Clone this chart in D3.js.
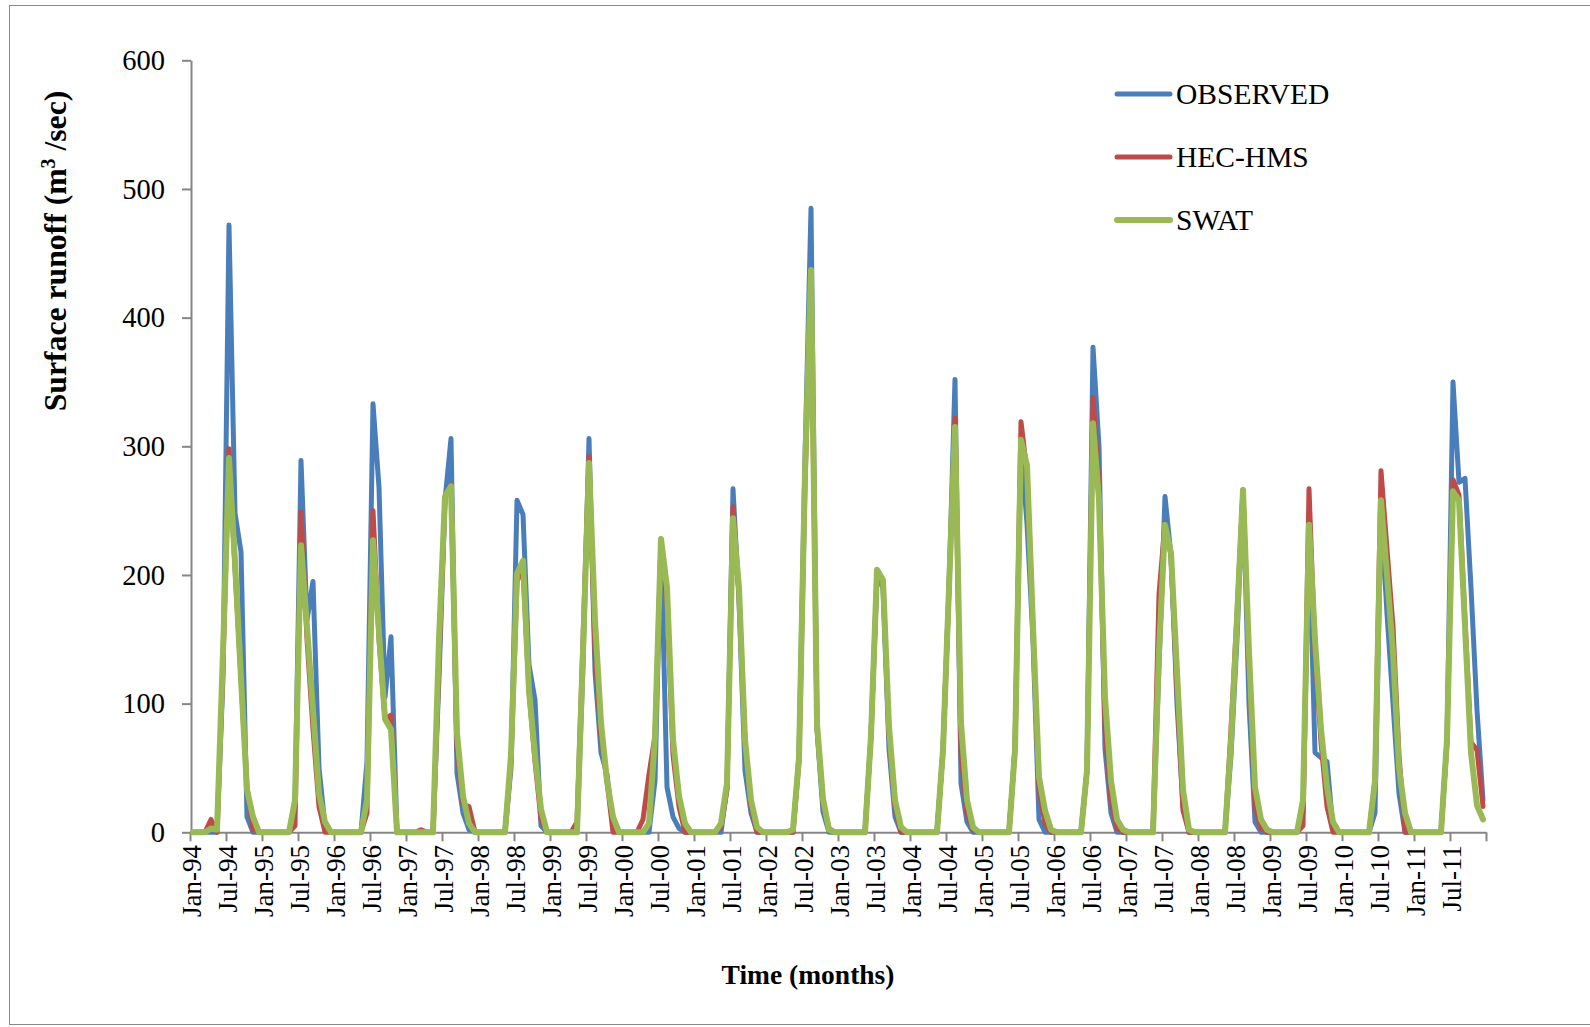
<!DOCTYPE html>
<html>
<head>
<meta charset="utf-8">
<script src="https://cdn.jsdelivr.net/npm/d3@7"></script>
<style>
  body { margin: 0; background: #fff; }
  svg { display: block; }
  text { font-family: "Liberation Serif", "Times New Roman", serif; fill: #000; }
</style>
</head>
<body>
<svg width="1590" height="1027"></svg>
<script>
// monthly surface runoff, Jan-94 .. Dec-11 (one row per year)
const observed = [
  0,0,0,0,0,120,472,248,218,12,0,0,
  0,0,0,0,0,20,289,165,195,50,5,0,
  0,0,0,0,0,55,333,268,105,152,0,0,
  0,0,0,0,0,120,258,306,46,15,2,0,
  0,0,0,0,0,50,258,247,130,103,5,0,
  0,0,0,0,0,130,306,125,62,45,5,0,
  0,0,0,0,0,40,228,35,12,3,0,0,
  0,0,0,0,0,35,267,180,48,15,0,0,
  0,0,0,0,0,60,290,485,80,16,0,0,
  0,0,0,0,0,75,200,190,65,12,0,0,
  0,0,0,0,0,64,190,352,38,8,0,0,
  0,0,0,0,0,65,300,240,150,10,0,0,
  0,0,0,0,0,48,377,300,65,15,0,0,
  0,0,0,0,0,130,261,215,100,20,0,0,
  0,0,0,0,0,60,150,266,100,8,0,0,
  0,0,0,0,0,15,235,62,58,55,3,0,
  0,0,0,0,0,15,250,170,100,30,0,0,
  0,0,0,0,0,70,350,272,275,190,95,25
]
const hecHms = [
  0,0,0,10,0,130,298,205,120,35,2,0,
  0,0,0,0,0,5,249,150,80,20,0,0,
  0,0,0,0,0,15,250,150,88,91,0,0,
  0,0,2,0,0,130,260,270,64,22,20,0,
  0,0,0,0,0,55,195,205,110,55,10,0,
  0,0,0,0,8,150,292,140,75,40,0,0,
  0,0,0,10,45,75,225,180,60,20,0,0,
  0,0,0,0,4,33,253,185,70,20,0,0,
  0,0,0,0,0,55,270,430,82,22,3,0,
  0,0,0,0,0,75,200,195,75,20,0,0,
  0,0,0,0,0,64,190,322,60,15,2,0,
  0,0,0,0,0,65,319,280,155,33,7,0,
  0,0,0,0,0,48,338,270,80,25,3,0,
  0,0,0,0,0,185,240,215,110,17,0,0,
  0,0,0,0,0,80,170,266,130,20,3,0,
  0,0,0,0,0,5,267,140,70,20,0,0,
  0,0,0,0,0,40,281,220,160,60,0,0,
  0,0,0,0,0,72,274,262,165,70,64,20
]
const swat = [
  0,0,0,3,2,140,291,210,120,33,12,0,
  0,0,0,0,0,25,223,160,95,30,8,0,
  0,0,0,0,0,25,227,155,88,80,0,0,
  0,0,0,0,0,150,261,269,77,28,7,0,
  0,0,0,0,0,60,201,211,110,60,18,0,
  0,0,0,0,0,140,287,165,85,40,12,0,
  0,0,0,0,7,74,228,190,72,28,7,0,
  0,0,0,0,7,38,244,190,72,25,4,0,
  0,0,0,0,2,58,280,437,84,26,2,0,
  0,0,0,0,0,75,204,196,82,25,4,0,
  0,0,0,0,0,64,190,315,85,25,4,0,
  0,0,0,0,0,64,305,285,160,43,17,2,
  0,0,0,0,0,48,318,258,105,40,10,2,
  0,0,0,0,0,140,239,217,125,33,2,0,
  0,0,0,0,0,70,165,266,140,35,10,2,
  0,0,0,0,0,25,239,150,80,35,8,0,
  0,0,0,0,0,40,258,200,140,50,15,0,
  0,0,0,0,0,72,265,258,160,62,21,10
]

const monthNames = ["Jan","Feb","Mar","Apr","May","Jun","Jul","Aug","Sep","Oct","Nov","Dec"]
const years = ["94","95","96","97","98","99","00","01","02","03","04","05","06","07","08","09","10","11"]
const tickLabels = ["Jan-94","Jul-94","Jan-95","Jul-95","Jan-96","Jul-96","Jan-97","Jul-97","Jan-98","Jul-98",
  "Jan-99","Jul-99","Jan-00","Jul-00","Jan-01","Jul-01","Jan-02","Jul-02","Jan-03","Jul-03","Jan-04","Jul-04",
  "Jan-05","Jul-05","Jan-06","Jul-06","Jan-07","Jul-07","Jan-08","Jul-08","Jan-09","Jul-09","Jan-10","Jul-10",
  "Jan-11","Jul-11"]
const yTicks = [0, 100, 200, 300, 400, 500, 600]

const months = []
years.forEach(y => monthNames.forEach(m => months.push(m + "-" + y)))

const series = [
  {name: "OBSERVED", values: observed, color: "#4a7ebb", width: 5},
  {name: "HEC-HMS", values: hecHms, color: "#be4b48", width: 5},
  {name: "SWAT", values: swat, color: "#98b954", width: 6}
]

const svg = d3.select("svg")
const axisColor = "#868686"

// outer frame
svg.append("rect")
    .attr("x", 9.5).attr("y", 5.5)
    .attr("width", 1600).attr("height", 1019)
    .attr("fill", "none").attr("stroke", "#8a8a8a").attr("stroke-width", 1)

const x = d3.scalePoint().domain(months).range([190, 1486]).padding(0.5)
const xEdge = d3.scaleLinear().domain([0, months.length]).range([190, 1486])
const y = d3.scaleLinear().domain([0, 600]).range([832.3, 60.3])

// y axis
const yAxis = svg.append("g")
    .attr("transform", "translate(191,0)")
    .call(d3.axisLeft(y).tickValues(yTicks).tickSize(9).tickSizeOuter(0).tickPadding(17))
yAxis.select(".domain").attr("stroke", axisColor).attr("stroke-width", 2)
yAxis.selectAll(".tick line").attr("stroke", axisColor).attr("stroke-width", 2)
yAxis.selectAll(".tick text")
    .attr("font-family", "Liberation Serif")
    .attr("font-size", 28.5)
    .attr("fill", "#000")

// x axis (tick marks on category edges every 6 months)
const xAxis = svg.append("g")
    .attr("transform", `translate(0,${y(0)})`)
    .call(d3.axisBottom(xEdge).tickValues(d3.range(0, months.length + 1, 6)).tickSize(9).tickSizeOuter(0).tickFormat(""))
xAxis.select(".domain").attr("stroke", axisColor).attr("stroke-width", 2)
xAxis.selectAll(".tick line").attr("stroke", axisColor).attr("stroke-width", 2)

svg.append("g").selectAll("text")
    .data(tickLabels)
    .join("text")
    .attr("transform", d => `translate(${x(d) - 1},845) rotate(-90)`)
    .attr("text-anchor", "end")
    .attr("dy", "0.35em")
    .attr("font-size", 27)
    .text(d => d)

// lines
const line = d3.line()
    .x((d, i) => x(months[i]))
    .y(d => y(d))

svg.append("g").selectAll("path")
    .data(series)
    .join("path")
    .attr("d", d => line(d.values))
    .attr("fill", "none")
    .attr("stroke", d => d.color)
    .attr("stroke-width", d => d.width)
    .attr("stroke-linejoin", "round")
    .attr("stroke-linecap", "round")

// legend
const legend = svg.append("g").selectAll("g")
    .data(series)
    .join("g")
    .attr("transform", (d, i) => `translate(1117,${94 + i * 63})`)
legend.append("line")
    .attr("x1", 0).attr("x2", 53)
    .attr("stroke", d => d.color)
    .attr("stroke-width", d => d.width)
    .attr("stroke-linecap", "round")
legend.append("text")
    .attr("x", 59).attr("y", 10)
    .attr("font-size", 29.5)
    .text(d => d.name)

// axis titles
svg.append("text")
    .attr("x", 808).attr("y", 984)
    .attr("text-anchor", "middle")
    .attr("font-weight", "bold")
    .attr("font-size", 27.5)
    .text("Time (months)")

const yTitle = svg.append("text")
    .attr("transform", "translate(66,251) rotate(-90)")
    .attr("text-anchor", "middle")
    .attr("font-weight", "bold")
    .attr("font-size", 31.7)
yTitle.append("tspan").text("Surface runoff (m")
yTitle.append("tspan").attr("font-size", 20).attr("dy", -11).text("3")
yTitle.append("tspan").attr("dy", 11).text(" /sec)")
</script>
</body>
</html>
